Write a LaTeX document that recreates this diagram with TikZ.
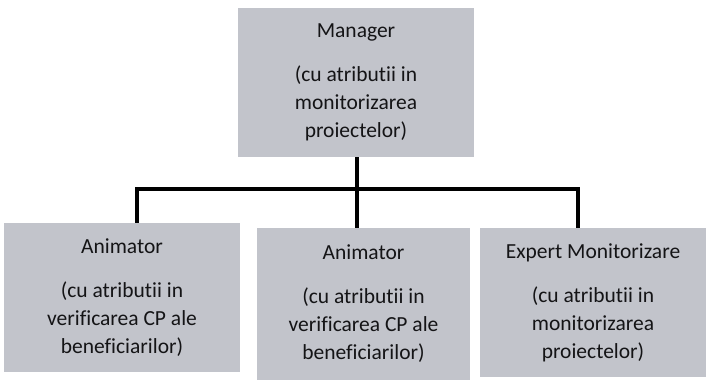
\documentclass[tikz,border=0pt]{standalone}
\usepackage{fontspec}
\setmainfont[Ligatures={NoCommon,NoRequired,NoContextual}]{Carlito}
\definecolor{boxfill}{RGB}{194,196,203}
\definecolor{txt}{RGB}{20,20,22}
\begin{document}
\begin{tikzpicture}[x=1bp,y=-1bp,
  box/.style={rectangle,fill=boxfill,draw=none,inner sep=0pt,align=center,
    text=txt,font=\fontsize{21.5bp}{28bp}\selectfont},
  conn/.style={line width=3.2bp,draw=black}]
\useasboundingbox (0,0) rectangle (708,382);
\fill[white] (0,0) rectangle (708,382);
\node[box,minimum width=236bp,minimum height=149bp] (m) at (356,82.5)
  {Manager\\[16bp](cu atributii in\\monitorizarea\\proiectelor)};
\node[box,minimum width=236bp,minimum height=149bp] (a1) at (122,297.5)
  {Animator\\[16bp](cu atributii in\\verificarea CP ale\\beneficiarilor)};
\node[box,minimum width=213bp,minimum height=152bp] (a2) at (363.5,304)
  {Animator\\[16bp](cu atributii in\\verificarea CP ale\\beneficiarilor)};
\node[box,minimum width=226bp,minimum height=149bp] (e) at (593,302.5)
  {Expert Monitorizare\\[16bp](cu atributii in\\monitorizarea\\proiectelor)};
\coordinate (jl) at (137,189);
\coordinate (jm) at (357,189);
\coordinate (jr) at (578,189);
\draw[conn] (jm |- m.south) -- (jm |- a2.north);
\draw[conn] (jl |- a1.north) -- (jl) -- (jr) -- (jr |- e.north);
\end{tikzpicture}
\end{document}
